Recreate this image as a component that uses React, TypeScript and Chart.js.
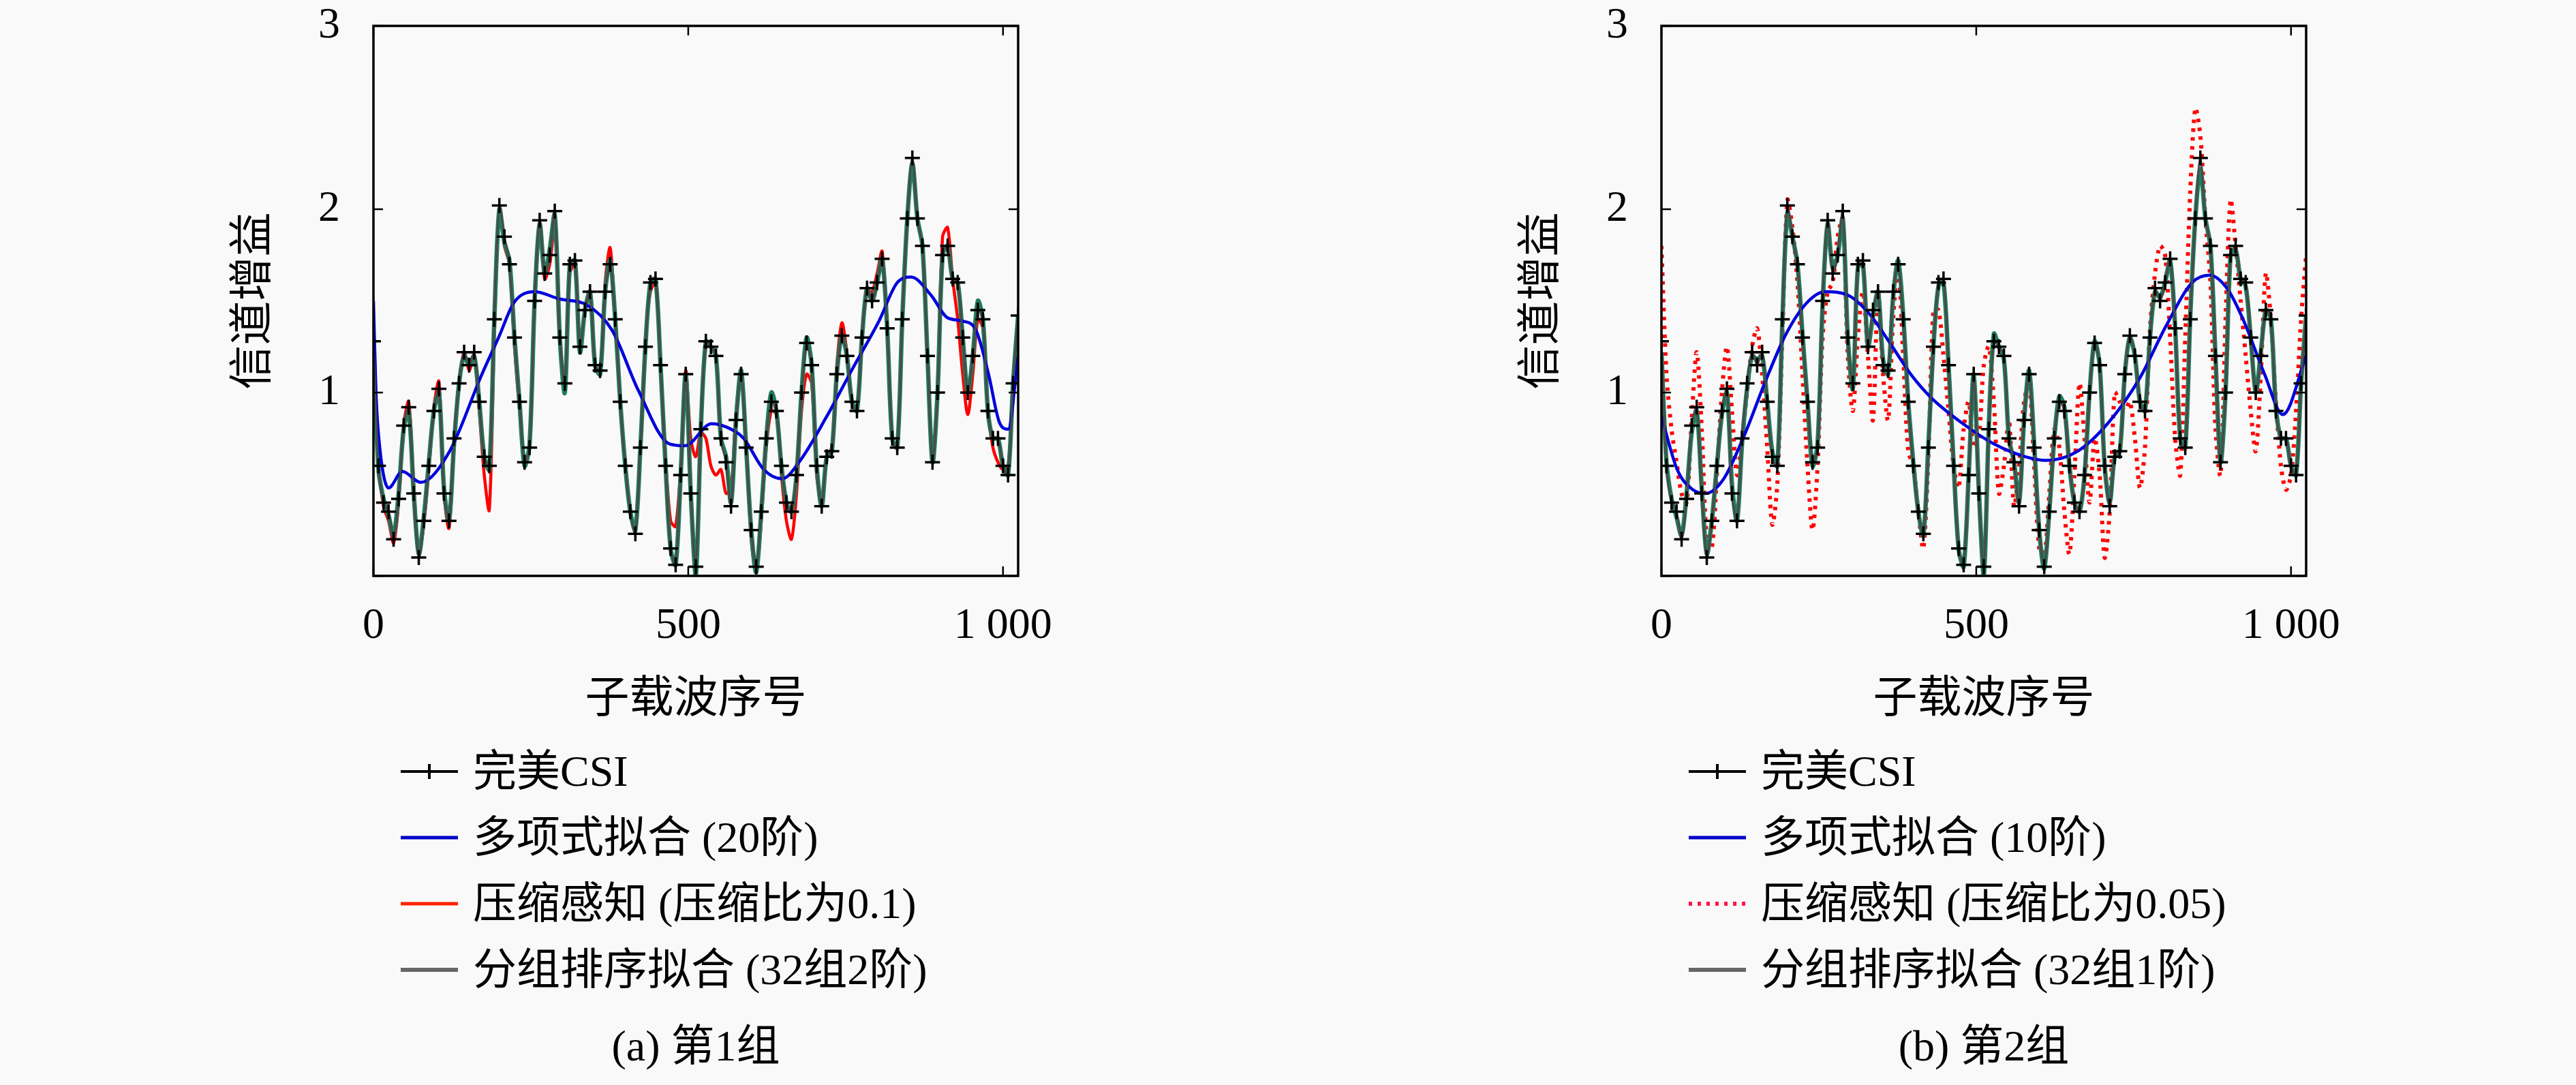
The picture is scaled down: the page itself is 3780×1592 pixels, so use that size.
import { useEffect, useRef } from "react";
import { Chart, registerables } from "chart.js";

Chart.register(...registerables);

const FONT = '"Liberation Serif", "Noto Sans CJK SC", serif';

// samples are read every 8th subcarrier, 0 .. 1024
const subcarriers = Array.from({ length: 129 }, (_, i) => i * 8);

const xTicks = [0, 500, 1000];
const xTickLabels = ["0", "500", "1 000"];
const yTicks = [0, 1, 2, 3];
const yTickLabels = ["", "1", "2", "3"];

const xTitle = "子载波序号";
const yTitle = "信道增益";

const perfectCsi = [
  1.28, 0.6, 0.4, 0.35, 0.2, 0.42, 0.82, 0.92,
  0.45, 0.1, 0.3, 0.6, 0.9, 1.02, 0.45, 0.3,
  0.75, 1.05, 1.22, 1.15, 1.22, 0.95, 0.65, 0.6,
  1.4, 2.02, 1.85, 1.7, 1.3, 0.95, 0.62, 0.7,
  1.5, 1.94, 1.65, 1.75, 1.99, 1.3, 1.05, 1.7,
  1.72, 1.25, 1.45, 1.55, 1.15, 1.12, 1.55, 1.7,
  1.4, 0.95, 0.6, 0.35, 0.23, 0.7, 1.25, 1.6,
  1.62, 1.15, 0.6, 0.15, 0.06, 0.55, 1.1, 0.45,
  0.05, 0.8, 1.28, 1.25, 1.2, 0.75, 0.62, 0.38,
  0.85, 1.1, 0.7, 0.25, 0.05, 0.35, 0.75, 0.95,
  0.9, 0.6, 0.4, 0.35, 0.55, 1.0, 1.27, 1.15,
  0.6, 0.38, 0.65, 0.68, 1.1, 1.31, 1.2, 0.95,
  0.9, 1.3, 1.57, 1.5, 1.6, 1.73, 1.35, 0.75,
  0.7, 1.4, 1.95, 2.28, 1.95, 1.8, 1.2, 0.62,
  1.0, 1.75, 1.8, 1.62, 1.6, 1.3, 1.0, 1.2,
  1.45, 1.4, 0.9, 0.75, 0.75, 0.6, 0.55, 1.05,
  1.42,
];

// group 1
const polyA_x = [
  0, 4, 10, 24, 46, 75, 121, 171, 200, 223, 256, 296, 338, 379, 421, 470, 495, 537,
  562, 588, 620, 649, 678, 720, 761, 803, 832, 854, 886, 911, 936, 957, 977, 994, 1008, 1024,
];
const polyA_y = [
  1.5, 1.0, 0.7, 0.48, 0.57, 0.51, 0.68, 1.09, 1.31, 1.49, 1.55, 1.51, 1.48, 1.34, 1.01, 0.72, 0.71, 0.83,
  0.81, 0.75, 0.58, 0.53, 0.63, 0.87, 1.13, 1.39, 1.6, 1.63, 1.53, 1.41, 1.39, 1.34, 1.1, 0.84, 0.8, 1.2,
];
const csA = [
  1.28, 0.62, 0.38, 0.3, 0.18, 0.4, 0.82, 0.95,
  0.5, 0.12, 0.28, 0.58, 0.92, 1.06, 0.45, 0.26,
  0.7, 1.05, 1.22, 1.12, 1.2, 0.9, 0.55, 0.36,
  1.3, 2.0, 1.8, 1.7, 1.25, 0.9, 0.62, 0.7,
  1.45, 1.9, 1.62, 1.7, 1.92, 1.3, 1.05, 1.65,
  1.7, 1.25, 1.45, 1.55, 1.15, 1.12, 1.6, 1.79,
  1.4, 0.95, 0.62, 0.35, 0.25, 0.7, 1.3, 1.55,
  1.6, 1.15, 0.65, 0.3, 0.27, 0.6, 1.12, 0.75,
  0.65, 0.78, 0.75, 0.6, 0.55, 0.58, 0.45, 0.48,
  0.9, 1.1, 0.7, 0.2, 0.02, 0.3, 0.7, 0.9,
  0.88, 0.55, 0.3, 0.2, 0.45, 0.9, 1.1, 1.05,
  0.55, 0.4, 0.65, 0.7, 1.15, 1.38, 1.22, 0.95,
  0.9, 1.3, 1.55, 1.55, 1.65, 1.77, 1.35, 0.75,
  0.7, 1.4, 1.95, 2.25, 1.95, 1.8, 1.2, 0.62,
  1.05, 1.85, 1.9, 1.62, 1.4, 1.1, 0.88, 1.1,
  1.4, 1.35, 0.9, 0.7, 0.62, 0.58, 0.6, 1.0,
  1.3,
];
const groupA = [
  1.25, 0.58, 0.42, 0.33, 0.22, 0.45, 0.8, 0.9,
  0.45, 0.12, 0.32, 0.62, 0.9, 1.0, 0.48, 0.3,
  0.72, 1.05, 1.2, 1.15, 1.2, 0.95, 0.65, 0.58,
  1.4, 2.0, 1.82, 1.72, 1.3, 0.95, 0.6, 0.72,
  1.5, 1.92, 1.65, 1.78, 1.97, 1.3, 1.0, 1.7,
  1.72, 1.22, 1.45, 1.55, 1.15, 1.1, 1.55, 1.72,
  1.4, 0.95, 0.6, 0.35, 0.25, 0.7, 1.25, 1.6,
  1.62, 1.15, 0.6, 0.15, 0.06, 0.55, 1.1, 0.45,
  0.0, 0.8, 1.28, 1.25, 1.2, 0.75, 0.65, 0.4,
  0.85, 1.12, 0.7, 0.25, 0.02, 0.35, 0.75, 1.0,
  0.9, 0.6, 0.4, 0.35, 0.55, 1.0, 1.3, 1.15,
  0.6, 0.38, 0.65, 0.68, 1.1, 1.31, 1.2, 0.95,
  0.9, 1.3, 1.57, 1.5, 1.6, 1.73, 1.35, 0.75,
  0.7, 1.4, 1.95, 2.25, 1.95, 1.8, 1.2, 0.62,
  1.0, 1.75, 1.8, 1.62, 1.6, 1.3, 1.0, 1.2,
  1.5, 1.4, 0.9, 0.75, 0.75, 0.6, 0.55, 1.05,
  1.42,
];

// group 2
const polyB_x = [
  0, 25, 50, 70, 99, 132, 165, 198, 231, 260, 297, 330, 363, 396, 429,
  479, 528, 578, 611, 661, 711, 760, 801, 843, 871, 900, 925, 958, 987, 1024,
];
const polyB_y = [
  0.87, 0.58, 0.47, 0.45, 0.53, 0.77, 1.06, 1.32, 1.49, 1.55, 1.53, 1.43, 1.27, 1.1, 0.97,
  0.83, 0.72, 0.65, 0.63, 0.68, 0.84, 1.08, 1.36, 1.6, 1.64, 1.56, 1.39, 1.1, 0.88, 1.2,
];
const csB = [
  1.8, 1.1, 0.8, 0.62, 0.45, 0.4, 0.85, 1.22,
  0.8, 0.2, 0.15, 0.55, 1.0, 1.25, 0.9, 0.55,
  0.75, 1.0, 1.25, 1.35, 1.1, 0.7, 0.28, 0.5,
  1.3, 2.05, 1.9, 1.6, 1.1, 0.6, 0.25, 0.6,
  1.3, 1.55, 1.6, 1.85, 1.95, 1.2, 0.9, 1.3,
  1.55, 1.2, 0.85, 1.55, 1.1, 0.85, 1.4, 1.68,
  1.2, 0.68, 0.6, 0.35, 0.15, 0.65, 1.45, 1.45,
  1.2, 0.9, 0.6, 0.48, 0.8, 0.95, 0.7, 0.75,
  1.15, 1.25, 0.95, 0.45, 0.6, 0.85, 0.38, 0.6,
  0.95, 1.05, 0.6, 0.15, 0.1, 0.45, 0.8, 0.7,
  0.35, 0.12, 0.55, 1.05, 0.75, 0.4, 0.75, 0.55,
  0.1, 0.35, 1.0, 0.95, 0.9, 0.95, 0.75, 0.48,
  0.7, 1.35, 1.65, 1.8, 1.75, 1.3, 0.75, 0.55,
  1.3, 2.1, 2.55, 2.4, 1.95, 1.6, 0.8, 0.55,
  1.4, 2.05, 1.8, 1.5, 1.2, 0.9, 0.68, 1.1,
  1.65, 1.4, 0.95, 0.6, 0.47, 0.55, 0.9, 1.4,
  1.75,
];
const groupB = [
  1.22, 0.62, 0.42, 0.32, 0.22, 0.45, 0.78, 0.9,
  0.48, 0.12, 0.3, 0.6, 0.88, 1.0, 0.5, 0.3,
  0.72, 1.02, 1.2, 1.18, 1.2, 0.95, 0.68, 0.6,
  1.38, 1.98, 1.85, 1.7, 1.32, 0.95, 0.6, 0.72,
  1.48, 1.92, 1.68, 1.75, 1.95, 1.3, 1.02, 1.68,
  1.7, 1.25, 1.42, 1.55, 1.18, 1.1, 1.52, 1.72,
  1.42, 0.95, 0.62, 0.35, 0.22, 0.72, 1.25, 1.58,
  1.6, 1.15, 0.62, 0.15, 0.05, 0.55, 1.1, 0.48,
  0.0, 0.82, 1.32, 1.25, 1.18, 0.75, 0.62, 0.4,
  0.85, 1.12, 0.72, 0.25, 0.04, 0.35, 0.75, 0.98,
  0.92, 0.6, 0.4, 0.35, 0.55, 1.0, 1.28, 1.15,
  0.6, 0.4, 0.65, 0.68, 1.1, 1.3, 1.2, 0.95,
  0.9, 1.3, 1.55, 1.52, 1.6, 1.72, 1.35, 0.75,
  0.7, 1.42, 1.95, 2.22, 1.95, 1.8, 1.2, 0.62,
  1.0, 1.75, 1.78, 1.62, 1.58, 1.3, 1.0, 1.22,
  1.45, 1.4, 0.92, 0.75, 0.75, 0.6, 0.55, 1.05,
  1.42,
];

const labelsA = ["完美CSI", "多项式拟合 (20阶)", "压缩感知 (压缩比为0.1)", "分组排序拟合 (32组2阶)"];
const labelsB = ["完美CSI", "多项式拟合 (10阶)", "压缩感知 (压缩比为0.05)", "分组排序拟合 (32组1阶)"];

const pts = (xs: number[], ys: number[]) => ys.map((y, i) => ({ x: xs[i], y }));

// box around the plot with inward tick marks on all four sides
const framePlugin = {
  id: "frame",
  afterDatasetsDraw(chart: any) {
    const { ctx, chartArea, scales } = chart;
    const { left, right, top, bottom } = chartArea;
    const seg = (x1: number, y1: number, x2: number, y2: number) => {
      ctx.beginPath();
      ctx.moveTo(x1, y1);
      ctx.lineTo(x2, y2);
      ctx.stroke();
    };
    ctx.save();
    ctx.strokeStyle = "#000";
    ctx.lineWidth = 2.5;
    for (const v of yTicks) {
      const y = scales.y.getPixelForValue(v);
      seg(left, y, left + 14, y);
      seg(right, y, right - 14, y);
    }
    for (const v of xTicks) {
      const x = scales.x.getPixelForValue(v);
      seg(x, top, x, top + 14);
      seg(x, bottom, x, bottom - 14);
    }
    ctx.lineWidth = 3.5;
    ctx.strokeRect(left, top, right - left, bottom - top);
    ctx.restore();
  },
};

type PanelProps = {
  left: number;
  polyX: number[];
  polyY: number[];
  cs: number[];
  group: number[];
  labels: string[];
  caption: string;
  dotted: boolean;
};

const CANVAS_W = 1260;
const CANVAS_H = 1100;
const AXIS_W = 248;
const PLOT_W = 946;
const PLOT_BOTTOM = 845;

const Panel = ({ left, polyX, polyY, cs, group, labels, caption, dotted }: PanelProps) => {
  const canvasRef = useRef<HTMLCanvasElement>(null);

  useEffect(() => {
    if (!canvasRef.current) return;
    const chart = new Chart(canvasRef.current, {
      type: "line",
      data: {
        datasets: [
          {
            label: labels[0],
            data: pts(subcarriers, perfectCsi),
            borderColor: "#4a4a4a",
            borderWidth: 3,
            tension: 0.3,
            pointStyle: "cross",
            pointRadius: 11,
            pointBorderColor: "#000000",
            pointBorderWidth: 3.5,
            order: 0,
          },
          {
            label: labels[1],
            data: pts(polyX, polyY),
            borderColor: "#0000dd",
            borderWidth: 4.5,
            cubicInterpolationMode: "monotone",
            pointRadius: 0,
            order: 1,
          },
          {
            label: labels[2],
            data: pts(subcarriers, cs),
            borderColor: "#ff0000",
            borderWidth: dotted ? 6 : 4.5,
            borderDash: dotted ? [5, 8] : [],
            tension: 0.3,
            pointRadius: 0,
            order: 3,
          },
          {
            label: labels[3],
            data: pts(subcarriers, group),
            borderColor: "#1f7d5d",
            borderWidth: 6.5,
            tension: 0.3,
            pointRadius: 0,
            order: 2,
          },
        ],
      },
      options: {
        responsive: false,
        animation: false,
        layout: { padding: { left: 0, top: 38, right: CANVAS_W - AXIS_W - PLOT_W, bottom: 0 } },
        plugins: {
          legend: { display: false },
          tooltip: { enabled: false },
        },
        scales: {
          x: {
            type: "linear",
            min: 0,
            max: 1024,
            afterBuildTicks: (s: any) => {
              s.ticks = xTicks.map((v) => ({ value: v }));
            },
            afterFit: (s: any) => {
              s.height = CANVAS_H - PLOT_BOTTOM;
            },
            ticks: {
              callback: (v: any) => xTickLabels[xTicks.indexOf(Number(v))],
              font: { family: FONT, size: 64, lineHeight: 1 },
              color: "#000",
              padding: 0,
              maxRotation: 0,
              autoSkip: false,
            },
            // tick marks themselves are hidden, their length only spaces the labels
            grid: { display: false, drawTicks: true, tickLength: 42 },
            border: { display: false },
            title: {
              display: true,
              text: xTitle,
              font: { family: FONT, size: 65 },
              color: "#000",
              padding: { top: 0, bottom: 33 },
            },
          },
          y: {
            type: "linear",
            min: 0,
            max: 3,
            afterBuildTicks: (s: any) => {
              s.ticks = yTicks.map((v) => ({ value: v }));
            },
            afterFit: (s: any) => {
              s.width = AXIS_W;
            },
            ticks: {
              callback: (v: any) => yTickLabels[yTicks.indexOf(Number(v))],
              font: { family: FONT, size: 64, lineHeight: 1 },
              color: "#000",
              padding: 0,
            },
            grid: { display: false, drawTicks: true, tickLength: 49 },
            border: { display: false },
            title: {
              display: true,
              text: yTitle,
              font: { family: FONT, size: 65 },
              color: "#000",
              padding: { top: 35, bottom: 0 },
            },
          },
        },
      },
      plugins: [framePlugin],
    });
    return () => {
      chart.destroy();
    };
  }, []);

  const swatches = [
    { color: "#000000", width: 4, dash: undefined as string | undefined, cross: true },
    { color: "#0000cc", width: 5, dash: undefined, cross: false },
    dotted
      ? { color: "#ff1744", width: 6, dash: "5 8", cross: false }
      : { color: "#ff2200", width: 5, dash: undefined, cross: false },
    { color: "#666666", width: 6, dash: undefined, cross: false },
  ];
  const plotLeft = left + AXIS_W;

  return (
    <>
      <canvas
        ref={canvasRef}
        width={CANVAS_W}
        height={CANVAS_H}
        style={{ position: "absolute", left, top: 0, width: CANVAS_W, height: CANVAS_H }}
      />
      {labels.map((label, i) => (
        <div
          key={label}
          style={{
            position: "absolute",
            left: plotLeft + 40,
            top: 1131 + i * 97 - 48,
            height: 97,
            display: "flex",
            alignItems: "center",
            fontFamily: FONT,
            fontSize: 64,
            lineHeight: 1,
            whiteSpace: "nowrap",
            color: "#000",
          }}
        >
          <svg width={84} height={30} style={{ marginRight: 22 }}>
            <line
              x1={0}
              y1={15}
              x2={84}
              y2={15}
              stroke={swatches[i].color}
              strokeWidth={swatches[i].width}
              strokeDasharray={swatches[i].dash}
            />
            {swatches[i].cross && <line x1={42} y1={4} x2={42} y2={26} stroke="#000" strokeWidth={4} />}
          </svg>
          <span>{label}</span>
        </div>
      ))}
      <div
        style={{
          position: "absolute",
          left: plotLeft,
          width: PLOT_W,
          top: 1495,
          textAlign: "center",
          fontFamily: FONT,
          fontSize: 64,
          lineHeight: "80px",
          color: "#000",
        }}
      >
        {caption}
      </div>
    </>
  );
};

export default function App() {
  return (
    <div
      style={{
        position: "absolute",
        left: 0,
        top: 0,
        width: 3780,
        height: 1592,
        background: "#f9f9f9",
        overflow: "hidden",
      }}
    >
      <Panel
        left={300}
        polyX={polyA_x}
        polyY={polyA_y}
        cs={csA}
        group={groupA}
        labels={labelsA}
        caption="(a) 第1组"
        dotted={false}
      />
      <Panel
        left={2190}
        polyX={polyB_x}
        polyY={polyB_y}
        cs={csB}
        group={groupB}
        labels={labelsB}
        caption="(b) 第2组"
        dotted={true}
      />
    </div>
  );
}
